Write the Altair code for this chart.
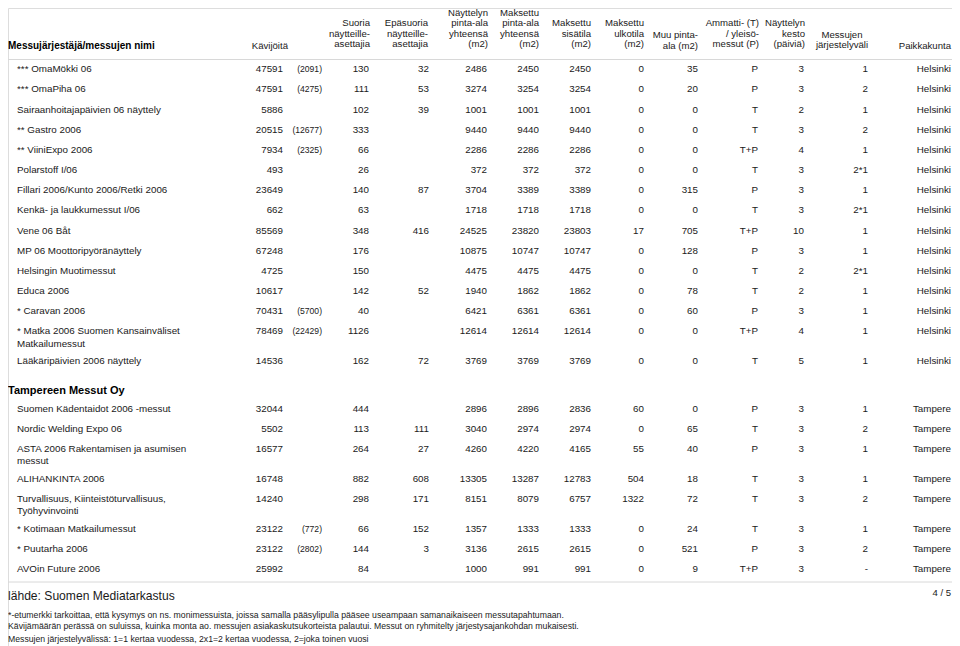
import altair as alt
import pandas as pd

# ---------------- data ----------------
hki_names = ["*** OmaMökki 06", "*** OmaPiha 06", "Sairaanhoitajapäivien 06 näyttely",
             "** Gastro 2006", "** ViiniExpo 2006", "Polarstoff I/06",
             "Fillari 2006/Kunto 2006/Retki 2006", "Kenkä- ja laukkumessut I/06",
             "Vene 06 Båt", "MP 06 Moottoripyöränäyttely", "Helsingin Muotimessut",
             "Educa 2006", "* Caravan 2006",
             "* Matka 2006 Suomen Kansainväliset\nMatkailumessut",
             "Lääkäripäivien 2006 näyttely"]
hki_visitors = [47591, 47591, 5886, 20515, 7934, 493, 23649, 662, 85569, 67248, 4725, 10617, 70431, 78469, 14536]
hki_invites = ["(2091)", "(4275)", "", "(12677)", "(2325)", "", "", "", "", "", "", "", "(5700)", "(22429)", ""]
hki_direct = [130, 111, 102, 333, 66, 26, 140, 63, 348, 176, 150, 142, 40, 1126, 162]
hki_indirect = [32, 53, 39, "", "", "", 87, "", 416, "", "", 52, "", "", 72]
hki_area = [2486, 3274, 1001, 9440, 2286, 372, 3704, 1718, 24525, 10875, 4475, 1940, 6421, 12614, 3769]
hki_paid = [2450, 3254, 1001, 9440, 2286, 372, 3389, 1718, 23820, 10747, 4475, 1862, 6361, 12614, 3769]
hki_paid_in = [2450, 3254, 1001, 9440, 2286, 372, 3389, 1718, 23803, 10747, 4475, 1862, 6361, 12614, 3769]
hki_paid_out = [0, 0, 0, 0, 0, 0, 0, 0, 17, 0, 0, 0, 0, 0, 0]
hki_other = [35, 20, 0, 0, 0, 0, 315, 0, 705, 128, 0, 78, 60, 0, 0]
hki_type = ["P", "P", "T", "T", "T+P", "T", "P", "T", "T+P", "P", "T", "T", "P", "T+P", "T"]
hki_days = [3, 3, 2, 3, 4, 3, 3, 3, 10, 3, 2, 2, 3, 4, 5]
hki_interval = ["1", "2", "1", "2", "1", "2*1", "1", "2*1", "1", "1", "2*1", "1", "1", "1", "1"]
hki_city = ["Helsinki"] * 15

tre_group = "Tampereen Messut Oy"
tre_names = ["Suomen Kädentaidot 2006 -messut", "Nordic Welding Expo 06",
             "ASTA 2006 Rakentamisen ja asumisen\nmessut", "ALIHANKINTA 2006",
             "Turvallisuus, Kiinteistöturvallisuus,\nTyöhyvinvointi",
             "* Kotimaan Matkailumessut", "* Puutarha 2006", "AVOin Future 2006"]
tre_visitors = [32044, 5502, 16577, 16748, 14240, 23122, 23122, 25992]
tre_invites = ["", "", "", "", "", "(772)", "(2802)", ""]
tre_direct = [444, 113, 264, 882, 298, 66, 144, 84]
tre_indirect = ["", 111, 27, 608, 171, 152, 3, ""]
tre_area = [2896, 3040, 4260, 13305, 8151, 1357, 3136, 1000]
tre_paid = [2896, 2974, 4220, 13287, 8079, 1333, 2615, 991]
tre_paid_in = [2836, 2974, 4165, 12783, 6757, 1333, 2615, 991]
tre_paid_out = [60, 0, 55, 504, 1322, 0, 0, 0]
tre_other = [0, 65, 40, 18, 72, 24, 521, 9]
tre_type = ["P", "T", "P", "T", "T", "T", "P", "T+P"]
tre_days = [3, 3, 3, 3, 3, 3, 3, 3]
tre_interval = ["1", "2", "1", "1", "2", "1", "2", "-"]
tre_city = ["Tampere"] * 8

headers = ["Kävijöitä", "Suoria\nnäytteille-\nasettajia", "Epäsuoria\nnäytteille-\nasettajia",
           "Näyttelyn\npinta-ala\nyhteensä\n(m2)", "Maksettu\npinta-ala\nyhteensä\n(m2)",
           "Maksettu\nsisätila\n(m2)", "Maksettu\nulkotila\n(m2)", "Muu pinta-\nala (m2)",
           "Ammatti- (T)\n/ yleisö-\nmessut (P)", "Näyttelyn\nkesto\n(päiviä)",
           "Messujen\njärjestelyväli", "Paikkakunta"]
title_header = "Messujärjestäjä/messujen nimi"
source_text = "lähde: Suomen Mediatarkastus"
page_text = "4 / 5"
notes = ["*-etumerkki tarkoittaa, että kysymys on ns. monimessuista, joissa samalla pääsylipulla pääsee useampaan samanaikaiseen messutapahtumaan.",
         "Kävijämäärän perässä on suluissa, kuinka monta ao. messujen asiakaskutsukorteista palautui. Messut on ryhmitelty järjestysajankohdan mukaisesti.",
         "Messujen järjestelyvälissä: 1=1 kertaa vuodessa, 2x1=2 kertaa vuodessa, 2=joka toinen vuosi"]

# ---------------- layout ----------------
W, H = 944, 638
col_keys = ["visitors", "invites", "direct", "indirect", "area", "paid", "paid_in",
            "paid_out", "other", "type", "days", "interval", "city"]
col_right = dict(visitors=283, invites=322, direct=369, indirect=429, area=487, paid=539,
                 paid_in=591, paid_out=644, other=698, type=758, days=804, interval=868, city=951)
hdr_x = [288, 370, 428, 488, 539, 591, 644, 698, 759, 805, 842, 951]
hdr_bottom = [46, 44.5, 44.5, 44.5, 44.5, 44.5, 44.5, 46, 44.5, 44.5, 45.5, 46]
HDR_FS, HDR_LH = 9.6, 10.6
BODY_FS = 9.8
NAME_X = 17
STEP, STEP2 = 20.15, 29.8

groups = [
    (None, hki_names, [hki_visitors, hki_invites, hki_direct, hki_indirect, hki_area, hki_paid,
                       hki_paid_in, hki_paid_out, hki_other, hki_type, hki_days, hki_interval, hki_city]),
    (tre_group, tre_names, [tre_visitors, tre_invites, tre_direct, tre_indirect, tre_area, tre_paid,
                            tre_paid_in, tre_paid_out, tre_other, tre_type, tre_days, tre_interval, tre_city]),
]

name_rows, cell_rows, inv_rows, grp_rows = [], [], [], []
y = 69.3
for gi, (gname, names, cols) in enumerate(groups):
    if gname is not None:
        y += 30.2
        grp_rows.append({"x": 8, "y": y, "t": gname})
        y += 17.5
    for i, nm in enumerate(names):
        parts = nm.split("\n")
        for k, p in enumerate(parts):
            name_rows.append({"x": NAME_X, "y": y + 12.3 * k, "t": p})
        for key, arr in zip(col_keys, cols):
            v = str(arr[i])
            if v == "":
                continue
            row = {"x": col_right[key], "y": y, "t": v}
            (inv_rows if key == "invites" else cell_rows).append(row)
        if i < len(names) - 1:
            y += STEP2 if len(parts) > 1 else STEP

hdr_rows = []
for h, x, b in zip(headers, hdr_x, hdr_bottom):
    n = h.count("\n") + 1
    hdr_rows.append({"x": x, "y": b - (n - 1) * HDR_LH, "t": h,
                     "al": "center" if x == 842 else "right"})

xs = alt.Scale(domain=[8, 8 + W], range=[0, W])
ys = alt.Scale(domain=[8, 8 + H], range=[0, H])
FONT = "Liberation Sans"
INK = "#1a1a1a"


def tl(rows, color=INK, **kw):
    return alt.Chart(pd.DataFrame(rows)).mark_text(font=FONT, color=color, **kw).encode(
        x=alt.X("x:Q", scale=xs, axis=None),
        y=alt.Y("y:Q", scale=ys, axis=None),
        text="t:N",
    )


layers = []
layers.append(tl(name_rows, align="left", baseline="middle", fontSize=BODY_FS))
layers.append(tl(cell_rows, align="right", baseline="middle", fontSize=BODY_FS))
layers.append(tl(inv_rows, align="right", baseline="middle", fontSize=8.6))
layers.append(tl(grp_rows, color="#000", align="left", baseline="middle", fontSize=11, fontWeight="bold"))
layers.append(tl([r for r in hdr_rows if r["al"] == "right"], align="right", baseline="middle",
                 fontSize=HDR_FS, lineBreak="\n", lineHeight=HDR_LH))
layers.append(tl([r for r in hdr_rows if r["al"] == "center"], align="center", baseline="middle",
                 fontSize=HDR_FS, lineBreak="\n", lineHeight=HDR_LH))
layers.append(tl([{"x": 8, "y": 46, "t": title_header}], color="#000", align="left", baseline="middle",
                 fontSize=10, fontWeight="bold"))
layers.append(tl([{"x": 8, "y": 596, "t": source_text}], align="left", baseline="middle", fontSize=12.1))
layers.append(tl([{"x": 951, "y": 593, "t": page_text}], align="right", baseline="middle", fontSize=9.5))
layers.append(tl([{"x": 8, "y": yy, "t": t} for t, yy in zip(notes, [615, 626, 639])],
                 align="left", baseline="middle", fontSize=8.7))

lines = pd.DataFrame([{"x": 8, "x2": 952, "y": 59.5}, {"x": 8, "x2": 952, "y": 582}])
rules = alt.Chart(lines).mark_rule(color="#d8d8d8", strokeWidth=1).encode(
    x=alt.X("x:Q", scale=xs, axis=None), x2="x2:Q",
    y=alt.Y("y:Q", scale=ys, axis=None))

chart = alt.layer(rules, *layers).properties(
    width=W, height=H, autosize=alt.AutoSizeParams(type="none"), padding=0
).configure_view(stroke=None).configure(background="white")

chart.save("out.html", embed_options={"renderer": "svg", "actions": False})
